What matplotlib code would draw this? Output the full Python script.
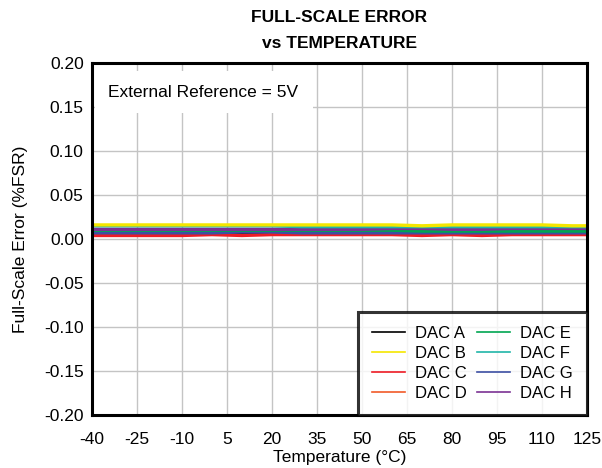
import matplotlib
matplotlib.use("Agg")
import matplotlib.pyplot as plt
from matplotlib.lines import Line2D

plt.rcParams['font.family'] = ['Liberation Sans', 'DejaVu Sans']

temps = [-40, -30, -20, -10, 0, 10, 20, 30, 40, 50, 60, 70, 80, 90, 100, 110, 120, 125]
dac_a = [0.007, 0.007, 0.007, 0.007, 0.007, 0.007, 0.007, 0.007, 0.007, 0.007, 0.007, 0.007, 0.007, 0.007, 0.007, 0.007, 0.007, 0.007]
dac_b = [0.016, 0.016, 0.016, 0.016, 0.016, 0.016, 0.016, 0.016, 0.016, 0.016, 0.016, 0.015, 0.016, 0.016, 0.016, 0.016, 0.015, 0.015]
dac_c = [0.004, 0.004, 0.004, 0.004, 0.005, 0.004, 0.005, 0.005, 0.005, 0.005, 0.005, 0.004, 0.005, 0.004, 0.005, 0.005, 0.005, 0.005]
dac_d = [0.006, 0.006, 0.006, 0.006, 0.006, 0.006, 0.006, 0.007, 0.007, 0.007, 0.008, 0.007, 0.007, 0.007, 0.007, 0.007, 0.007, 0.007]
dac_e = [0.010, 0.010, 0.010, 0.010, 0.010, 0.010, 0.010, 0.010, 0.010, 0.010, 0.010, 0.009, 0.009, 0.009, 0.009, 0.009, 0.009, 0.009]
dac_f = [0.015, 0.015, 0.015, 0.015, 0.015, 0.015, 0.015, 0.014, 0.014, 0.014, 0.014, 0.014, 0.014, 0.014, 0.014, 0.014, 0.014, 0.014]
dac_g = [0.007, 0.007, 0.007, 0.007, 0.007, 0.008, 0.008, 0.007, 0.007, 0.007, 0.007, 0.007, 0.007, 0.007, 0.007, 0.007, 0.007, 0.007]
dac_h = [0.011, 0.011, 0.011, 0.011, 0.011, 0.011, 0.011, 0.011, 0.011, 0.011, 0.012, 0.012, 0.011, 0.011, 0.012, 0.012, 0.012, 0.012]

labels = ['DAC A', 'DAC B', 'DAC C', 'DAC D', 'DAC E', 'DAC F', 'DAC G', 'DAC H']
series = [dac_a, dac_b, dac_c, dac_d, dac_e, dac_f, dac_g, dac_h]
colors = ['#000000', '#f5e600', '#ee1c25', '#f15a29', '#00a651', '#20b5a8', '#3c4fa3', '#7b3294']

xticks = list(range(-40, 126, 15))
yticks = [0.20, 0.15, 0.10, 0.05, 0.00, -0.05, -0.10, -0.15, -0.20]

fig = plt.figure(figsize=(6.02, 4.68), dpi=100)
ax = fig.add_axes([92/602, 1-415/468, (587-92)/602, (415-63)/468])

draw_order = [3, 0, 2, 6, 4, 7, 5, 1]
for i in draw_order:
    ax.plot(temps, series[i], color=colors[i], lw=2.4, zorder=3)

ax.set_xlim(-40, 125)
ax.set_ylim(-0.20, 0.20)
ax.set_xticks(xticks)
ax.set_xticklabels([str(t) for t in xticks])
ax.set_yticks(yticks)
ax.set_yticklabels([f"{v:.2f}" for v in yticks])
ax.grid(True, color='#c4c4c4', lw=1.0, zorder=0)
ax.tick_params(axis='both', length=0, labelsize=12.5)
ax.tick_params(axis='x', pad=12)
ax.tick_params(axis='y', pad=6)
for s in ax.spines.values():
    s.set_linewidth(2.2)
    s.set_color('black')
    s.set_zorder(5)

ax.set_xlabel('Temperature (°C)', fontsize=12.5)
ax.set_ylabel('Full-Scale Error (%FSR)', fontsize=12.5)
ax.xaxis.set_label_coords(0.5, (415 - 450) / 352)
ax.yaxis.set_label_coords((28 - 92) / 495, 0.5)
fig.text((92+587)/2/602, 1-18/468, 'FULL-SCALE ERROR', fontsize=12.5, fontweight='bold', ha='center', va='center')
fig.text((92+587)/2/602, 1-43/468, 'vs TEMPERATURE', fontsize=12.5, fontweight='bold', ha='center', va='center')

ax.text(-34.5, 0.167, 'External Reference = 5V', fontsize=12.5, va='center', ha='left',
        bbox=dict(boxstyle='square,pad=0.8', fc='white', ec='none'), zorder=4)

handles = [Line2D([0], [0], color=c, lw=1.2) for c in colors]
leg = ax.legend(handles, labels, ncol=2, loc='lower right', bbox_to_anchor=(1.0, 0.0),
                fontsize=12, frameon=True, fancybox=False, borderaxespad=0,
                handlelength=2.0, handletextpad=0.6, columnspacing=0.6,
                labelspacing=0.3, borderpad=0.85)
leg.get_frame().set_edgecolor('black')
leg.get_frame().set_linewidth(2.2)
leg.set_zorder(6)

fig.savefig('out.png', dpi=100)
